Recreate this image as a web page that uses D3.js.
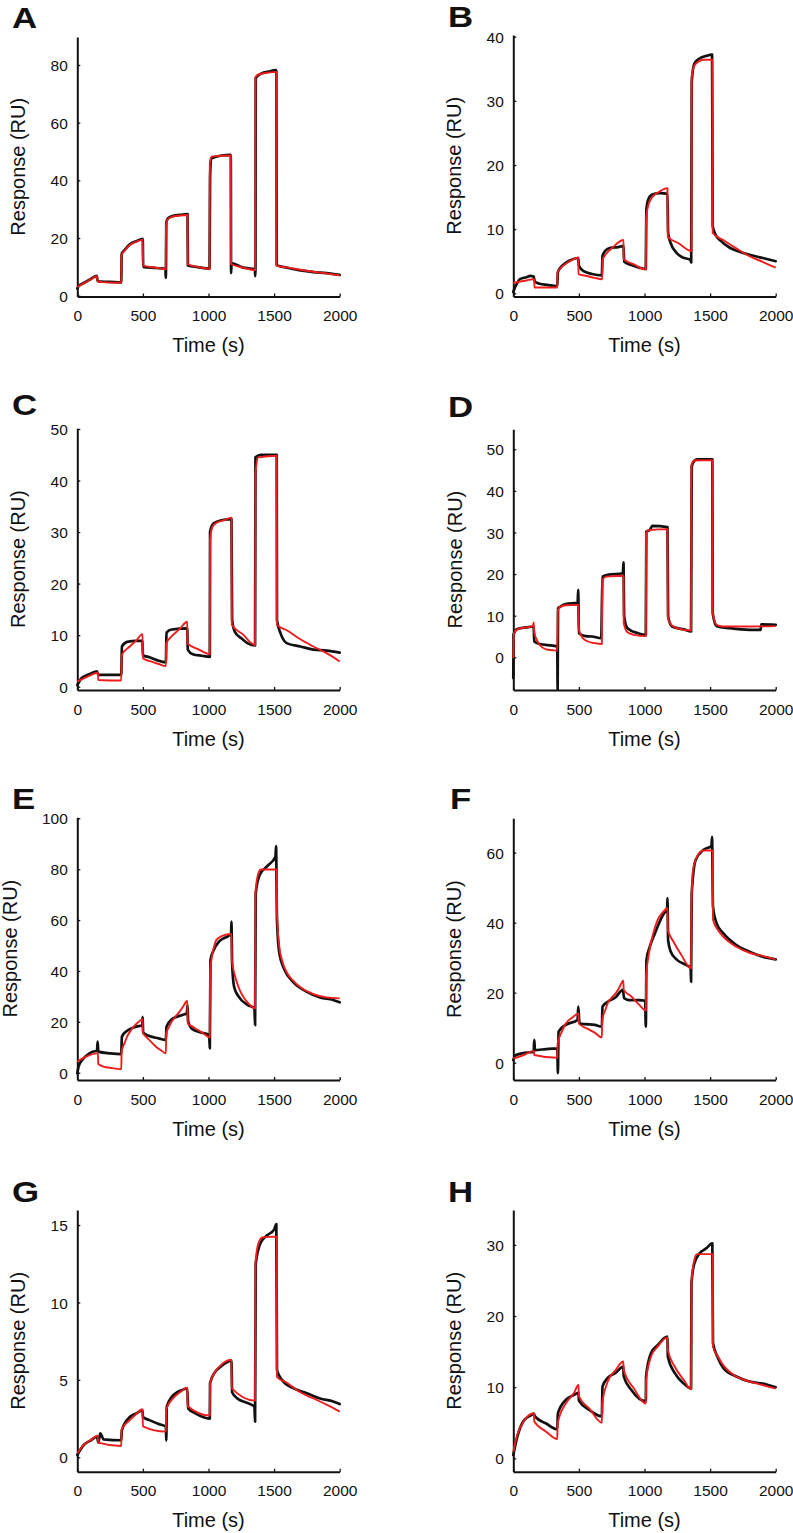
<!DOCTYPE html>
<html>
<head>
<meta charset="utf-8">
<script src="https://cdn.jsdelivr.net/npm/d3@7"></script>
<style>
  html, body { margin: 0; padding: 0; background: #fff; }
  svg { display: block; }
  text { font-family: "Liberation Sans", Arial, Helvetica, sans-serif; fill: #111; }
</style>
</head>
<body>
<svg id="chart" width="793" height="1533"></svg>
<script>
// ---------------- DATA (time s, response RU) ----------------
const xTicks = [0, 500, 1000, 1500, 2000];
const xLabel = "Time (s)";
const yLabel = "Response (RU)";
const panelLetters = ["A", "B", "C", "D", "E", "F", "G", "H"];

const yTicksA = [0, 20, 40, 60, 80];
const yTicksB = [0, 10, 20, 30, 40];
const yTicksC = [0, 10, 20, 30, 40, 50];
const yTicksD = [0, 10, 20, 30, 40, 50];
const yTicksE = [0, 20, 40, 60, 80, 100];
const yTicksF = [0, 20, 40, 60];
const yTicksG = [0, 5, 10, 15];
const yTicksH = [0, 10, 20, 30];

const A_measured = [[0,2.5],[10,3.3],[50,4.4],[100,5.7],[148,6.9],[155,5.2],[170,4.9],[250,4.8],[335,4.6],[338,14.5],[360,15.8],[400,17.8],[450,18.9],[499,19.7],[502,10.0],[600,9.6],[672,9.3],[674,6.2],[676,9.0],[678,25.0],[690,26.8],[720,27.5],[780,28.0],[840,28.3],[843,10.5],[920,9.9],[1008,9.4],[1012,41.0],[1020,47.5],[1100,48.6],[1170,48.8],[1172,7.8],[1176,11.2],[1260,9.8],[1354,9.2],[1356,6.8],[1358,9.0],[1360,75.5],[1400,77.0],[1470,77.8],[1510,78.2],[1517,78.0],[1520,10.6],[1600,9.7],[1700,8.8],[1800,8.2],[1900,7.8],[2000,7.2]];
const A_fit = [[0,3.0],[50,4.3],[100,5.6],[148,6.8],[155,5.0],[160,4.8],[335,4.5],[337,14.0],[360,15.6],[400,17.6],[450,18.7],[499,19.4],[501,10.4],[600,9.7],[674,9.2],[676,24.0],[690,26.5],[720,27.3],[780,27.8],[840,28.0],[842,10.9],[920,10.0],[1008,9.3],[1010,46.0],[1025,48.2],[1100,48.5],[1170,48.6],[1172,11.0],[1260,9.8],[1356,8.9],[1358,75.8],[1380,76.7],[1450,77.3],[1517,77.6],[1519,10.4],[1600,9.8],[1700,9.0],[1800,8.3],[1900,7.7],[2000,7.1]];

const B_measured = [[0,0.2],[10,0.8],[25,1.4],[50,2.2],[100,2.5],[130,2.7],[155,2.6],[165,1.8],[200,1.5],[260,1.3],[335,1.1],[340,3.3],[360,4.0],[390,4.6],[430,5.1],[495,5.5],[500,4.3],[540,3.4],[600,3.0],[675,2.8],[680,5.8],[700,6.6],[740,7.1],[800,7.2],[840,7.4],[845,4.9],[900,4.4],[960,4.0],[1010,3.8],[1014,13.0],[1030,14.7],[1060,15.4],[1120,15.6],[1175,15.5],[1180,9.4],[1200,7.8],[1240,6.4],[1290,5.6],[1350,5.2],[1356,4.8],[1360,33.0],[1380,35.8],[1420,36.6],[1470,37.0],[1515,37.2],[1520,10.5],[1540,9.2],[1580,8.2],[1650,7.1],[1720,6.5],[1800,6.0],[1880,5.6],[1940,5.3],[2000,5.0]];
const B_fit = [[0,1.6],[40,1.8],[100,2.0],[150,2.2],[160,2.2],[161,0.9],[335,0.9],[337,3.2],[360,3.9],[400,4.6],[450,5.2],[495,5.6],[497,3.0],[560,2.7],[620,2.4],[678,2.2],[680,5.2],[710,6.2],[760,7.2],[840,8.3],[842,5.3],[920,4.5],[1010,3.7],[1012,11.5],[1030,13.8],[1060,15.0],[1110,15.8],[1175,16.4],[1178,8.8],[1260,7.8],[1358,6.6],[1360,33.8],[1380,35.5],[1420,36.2],[1450,36.4],[1517,36.4],[1520,9.4],[1600,8.3],[1700,7.0],[1800,5.8],[1900,4.9],[2000,4.0]];

const C_measured = [[0,0.3],[15,1.0],[30,1.6],[70,2.2],[100,2.5],[150,3.0],[160,2.3],[250,2.3],[335,2.3],[340,7.8],[380,8.7],[450,8.9],[497,8.9],[500,6.1],[550,5.7],[600,5.2],[675,4.7],[680,10.5],[720,11.1],[838,11.3],[842,7.2],[880,6.3],[950,6.0],[1010,5.8],[1012,30.1],[1040,31.7],[1100,32.3],[1175,32.5],[1180,12.9],[1200,10.7],[1250,9.4],[1300,8.4],[1355,8.0],[1358,44.5],[1400,45.0],[1520,45.0],[1522,12.9],[1550,10.3],[1600,8.4],[1700,7.8],[1800,7.2],[1900,7.0],[2000,6.6]];
const C_fit = [[0,1.0],[50,1.6],[100,2.2],[150,2.7],[158,2.7],[159,1.3],[335,1.2],[338,6.1],[400,7.8],[450,9.0],[497,10.2],[500,5.5],[560,4.9],[620,4.4],[675,4.0],[678,8.4],[720,9.8],[780,11.2],[838,12.6],[840,8.4],[920,7.3],[1010,6.3],[1012,28.5],[1030,31.0],[1060,31.8],[1120,32.3],[1175,32.8],[1178,12.0],[1260,10.2],[1355,8.1],[1358,41.4],[1380,44.5],[1450,44.7],[1520,44.8],[1522,12.0],[1600,10.9],[1700,9.2],[1800,7.8],[1900,6.5],[2000,4.9]];

const D_measured = [[0,-5.0],[2,5.5],[30,6.8],[100,7.2],[155,7.4],[160,3.8],[200,3.2],[300,2.8],[335,2.6],[338,-7.8],[341,11.8],[360,12.2],[400,12.8],[490,13.1],[495,16.2],[500,5.8],[550,5.1],[600,5.0],[670,4.6],[680,19.4],[720,19.8],[835,20.2],[840,22.8],[845,9.8],[870,7.0],[950,5.8],[1010,5.4],[1014,30.2],[1040,30.6],[1060,31.6],[1175,31.3],[1180,9.8],[1210,7.4],[1300,6.7],[1355,6.2],[1360,45.8],[1375,47.0],[1400,47.6],[1517,47.6],[1520,10.6],[1550,7.5],[1650,7.0],[1800,6.6],[1885,6.6],[1890,7.9],[2000,7.8]];
const D_fit = [[0,-0.2],[5,5.8],[30,6.7],[100,7.2],[150,7.5],[155,8.4],[160,6.0],[175,4.5],[200,3.0],[250,1.9],[300,1.7],[335,1.6],[340,11.4],[360,12.2],[400,12.5],[497,12.6],[500,6.6],[530,4.6],[570,3.8],[620,3.4],[675,3.2],[678,18.6],[710,19.4],[840,19.6],[842,8.2],[870,6.0],[920,5.4],[1010,5.1],[1012,29.8],[1040,30.6],[1175,30.8],[1178,9.8],[1210,7.6],[1250,7.0],[1355,6.4],[1358,46.2],[1380,47.3],[1517,47.4],[1520,10.6],[1550,7.8],[1600,7.4],[1800,7.4],[2000,7.5]];

const E_measured = [[0,-0.3],[10,2.5],[20,3.7],[60,6.3],[120,8.3],[150,8.6],[155,12.2],[160,8.3],[250,7.6],[335,7.3],[340,14.2],[380,16.5],[450,18.1],[495,18.7],[498,22.0],[502,15.7],[550,14.4],[620,13.5],[675,12.8],[680,18.1],[720,21.0],[800,22.7],[835,23.3],[840,26.6],[845,20.1],[880,17.0],[950,15.7],[1005,14.8],[1010,9.6],[1015,44.3],[1040,48.2],[1080,51.5],[1150,53.7],[1172,54.5],[1175,59.4],[1180,43.0],[1195,33.8],[1230,29.9],[1300,26.6],[1350,25.3],[1355,18.7],[1360,70.5],[1390,77.7],[1450,81.3],[1510,84.9],[1515,89.1],[1522,60.0],[1540,46.9],[1580,40.4],[1650,35.4],[1750,31.8],[1850,29.6],[1950,28.6],[2000,27.7]];
const E_fit = [[0,4.3],[40,5.6],[80,6.6],[150,7.6],[158,7.6],[159,3.4],[200,2.4],[270,1.8],[335,1.3],[338,8.3],[360,11.6],[380,14.2],[405,16.4],[430,18.1],[460,19.6],[497,21.0],[500,15.7],[525,14.1],[550,12.8],[600,10.2],[640,8.7],[675,7.6],[678,15.5],[700,18.1],[720,20.1],[750,22.2],[780,24.0],[810,26.3],[838,28.3],[842,19.4],[870,18.4],[900,17.4],[960,15.5],[1010,13.8],[1012,39.1],[1020,43.5],[1030,46.9],[1045,50.0],[1060,52.2],[1100,53.7],[1175,54.5],[1178,44.3],[1200,38.4],[1225,34.2],[1250,31.2],[1300,27.5],[1355,25.3],[1358,70.5],[1368,75.5],[1380,78.4],[1400,79.9],[1520,79.9],[1522,62.6],[1540,49.5],[1560,44.3],[1600,39.1],[1650,35.9],[1700,33.6],[1800,30.9],[1900,29.6],[2000,29.2]];

const F_measured = [[0,0.8],[20,2.2],[100,2.9],[155,3.1],[160,6.5],[165,3.6],[250,3.9],[335,4.1],[340,-3.0],[345,8.9],[400,10.8],[490,12.2],[495,16.0],[505,11.2],[550,11.0],[620,10.8],[675,10.3],[680,16.0],[720,17.4],[780,18.7],[835,20.8],[845,18.4],[880,17.9],[960,17.9],[1005,17.7],[1010,10.3],[1015,29.3],[1040,33.1],[1080,37.0],[1150,42.7],[1172,43.5],[1175,47.0],[1180,35.0],[1200,31.7],[1250,29.3],[1320,27.9],[1352,27.0],[1355,23.1],[1360,48.4],[1390,57.9],[1450,60.8],[1510,61.9],[1515,64.4],[1522,44.6],[1550,39.8],[1600,37.0],[1700,33.6],[1800,31.7],[1900,30.3],[2000,29.5]];
const F_fit = [[0,1.2],[80,2.2],[150,3.3],[158,3.3],[159,2.2],[335,1.4],[338,5.5],[370,8.9],[400,11.2],[450,12.9],[497,14.1],[500,11.2],[560,9.8],[620,8.6],[675,7.2],[678,12.2],[700,14.9],[720,17.0],[750,18.6],[780,19.8],[810,21.6],[838,23.4],[842,20.8],[900,18.9],[960,16.5],[1010,14.9],[1012,24.6],[1030,30.3],[1060,36.0],[1100,40.8],[1140,43.0],[1175,44.1],[1178,37.9],[1220,34.6],[1280,30.8],[1355,27.0],[1358,44.6],[1370,55.0],[1400,58.9],[1450,60.6],[1520,60.6],[1522,40.8],[1560,37.9],[1600,36.0],[1700,33.1],[1800,31.4],[1900,30.5],[2000,29.5]];

const G_measured = [[0,0.15],[50,0.8],[100,1.08],[150,1.33],[160,0.95],[175,1.55],[200,1.16],[335,1.1],[340,1.76],[400,2.6],[450,2.84],[497,3.05],[500,2.6],[550,2.4],[620,2.15],[675,1.98],[678,1.08],[682,3.27],[720,3.9],[800,4.35],[838,4.45],[845,3.16],[900,2.84],[1010,2.5],[1012,4.8],[1050,5.5],[1100,5.9],[1175,6.24],[1180,4.2],[1220,3.8],[1300,3.5],[1350,3.27],[1355,2.3],[1360,12.5],[1400,13.9],[1450,14.35],[1500,14.7],[1517,15.06],[1522,5.64],[1560,5.0],[1650,4.45],[1750,4.13],[1850,3.8],[1950,3.6],[2000,3.44]];
const G_fit = [[0,0.26],[50,0.8],[100,1.1],[155,1.4],[160,0.95],[335,0.73],[338,1.8],[400,2.4],[450,2.8],[497,3.1],[500,2.0],[675,1.66],[678,3.1],[740,3.9],[790,4.25],[838,4.5],[842,3.3],[1010,2.7],[1012,4.8],[1050,5.5],[1100,6.0],[1175,6.3],[1178,4.45],[1355,3.66],[1358,12.5],[1380,13.8],[1410,14.2],[1520,14.25],[1522,5.2],[1600,4.8],[1700,4.2],[1800,3.8],[1900,3.4],[2000,2.95]];

const H_measured = [[0,0.47],[30,3.0],[80,5.3],[140,6.1],[155,6.3],[165,5.9],[250,4.9],[335,4.1],[340,6.3],[400,8.2],[460,8.9],[497,9.2],[500,8.1],[580,6.8],[675,5.9],[680,10.1],[720,11.3],[780,12.0],[838,12.9],[842,11.5],[900,9.6],[1010,8.0],[1012,11.5],[1050,14.8],[1100,15.9],[1175,17.1],[1178,14.3],[1230,12.0],[1300,10.5],[1355,9.8],[1358,24.6],[1380,27.4],[1420,28.8],[1470,29.5],[1517,30.2],[1522,16.2],[1560,14.1],[1600,12.7],[1700,11.5],[1800,10.8],[1900,10.5],[2000,10.0]];
const H_fit = [[0,0.94],[30,3.3],[80,5.2],[150,6.3],[158,6.3],[159,5.2],[250,3.75],[335,2.7],[338,4.9],[400,7.7],[460,9.1],[497,10.3],[500,8.7],[580,7.0],[675,5.0],[678,7.7],[720,10.8],[780,12.4],[838,13.6],[842,12.4],[920,9.8],[1010,7.7],[1012,11.0],[1050,14.3],[1100,15.7],[1175,17.0],[1178,15.2],[1230,12.9],[1300,11.0],[1355,9.7],[1358,24.6],[1380,27.9],[1400,28.7],[1520,28.7],[1522,15.7],[1560,14.3],[1600,13.1],[1700,11.5],[1800,10.8],[1900,10.3],[2000,9.8]];

// ---------------- LAYOUT ----------------
const xDomain = [0, 2000];
const colX = [77.3, 513.3];       // y-axis x position per column
const plotW = 262.4;
const rows = [
  { top: [37, 35],       bottom: 296.5 },
  { top: [428.3, 429.3], bottom: 690 },
  { top: [817.3, 818.3], bottom: 1080 },
  { top: [1210, 1210],   bottom: 1471.7 }
];
const panels = [
  { measured: A_measured, fit: A_fit, yTicks: yTicksA, yDomain: [-0.28, 89.7],  ylabOff: 52 },
  { measured: B_measured, fit: B_fit, yTicks: yTicksB, yDomain: [-0.5, 40.26],  ylabOff: 52 },
  { measured: C_measured, fit: C_fit, yTicks: yTicksC, yDomain: [-0.64, 50.13], ylabOff: 52 },
  { measured: D_measured, fit: D_fit, yTicks: yTicksD, yDomain: [-7.86, 54.8],  ylabOff: 51 },
  { measured: E_measured, fit: E_fit, yTicks: yTicksE, yDomain: [-2.87, 100.4], ylabOff: 60 },
  { measured: F_measured, fit: F_fit, yTicks: yTicksF, yDomain: [-4.94, 69.8],  ylabOff: 52 },
  { measured: G_measured, fit: G_fit, yTicks: yTicksG, yDomain: [-0.93, 15.97], ylabOff: 52 },
  { measured: H_measured, fit: H_fit, yTicks: yTicksH, yDomain: [-1.88, 34.9],  ylabOff: 52 }
];
const letterPos = [[12,28],[448,27],[12,415],[448,416.5],[12,809.3],[450,809],[12,1201.7],[448,1201.7]];

const svg = d3.select("#chart");
const fmt = d3.format("d");

panels.forEach((p, i) => {
  const col = i % 2, row = Math.floor(i / 2);
  const x0 = colX[col];
  const top = rows[row].top[col], bottom = rows[row].bottom;
  const x = d3.scaleLinear().domain(xDomain).range([x0, x0 + plotW]);
  const y = d3.scaleLinear().domain(p.yDomain).range([bottom, top]);
  const g = svg.append("g");

  // axes
  const xAxis = d3.axisBottom(x).tickValues(xTicks).tickFormat(fmt).tickSizeInner(-3).tickSizeOuter(0).tickPadding(9);
  const yAxis = d3.axisLeft(y).tickValues(p.yTicks).tickFormat(fmt).tickSizeInner(-3).tickSizeOuter(0).tickPadding(9.5);
  const gx = g.append("g").attr("transform", `translate(0,${bottom})`).call(xAxis);
  const gy = g.append("g").attr("transform", `translate(${x0},0)`).call(yAxis);
  [gx, gy].forEach(a => {
    a.select(".domain").attr("stroke", "#111").attr("stroke-width", 2);
    a.selectAll(".tick line").attr("stroke", "#111").attr("stroke-width", 1.3);
    a.selectAll(".tick text").attr("fill", "#111").style("font-size", "15.5px")
      .style("font-family", '"Liberation Sans", Arial, sans-serif');
  });
  gx.selectAll(".tick text").attr("dy", null).attr("y", 24.5);
  gy.selectAll(".tick text").attr("dy", "0.36em");

  // curves
  const line = d3.line().x(d => x(d[0])).y(d => y(d[1])).curve(d3.curveMonotoneX);
  g.append("path").datum(p.measured).attr("d", line)
    .attr("fill", "none").attr("stroke", "#111").attr("stroke-width", 2.7)
    .attr("stroke-linejoin", "round").attr("stroke-linecap", "round");
  g.append("path").datum(p.fit).attr("d", line)
    .attr("fill", "none").attr("stroke", "#ee1c1c").attr("stroke-width", 1.9)
    .attr("stroke-linejoin", "round");

  // axis titles
  g.append("text").attr("x", x0 + plotW / 2).attr("y", bottom + 55.5)
    .attr("text-anchor", "middle").style("font-size", "20px").text(xLabel);
  g.append("text")
    .attr("transform", `translate(${x0 - p.ylabOff},${(top + bottom) / 2}) rotate(-90)`)
    .attr("text-anchor", "middle").style("font-size", "20px").text(yLabel);

  // panel letter
  const [lx, ly] = letterPos[i];
  g.append("text").attr("transform", `translate(${lx},${ly}) scale(1.2,1)`)
    .style("font-size", "29px").style("font-weight", "bold").text(panelLetters[i]);
});
</script>
</body>
</html>
